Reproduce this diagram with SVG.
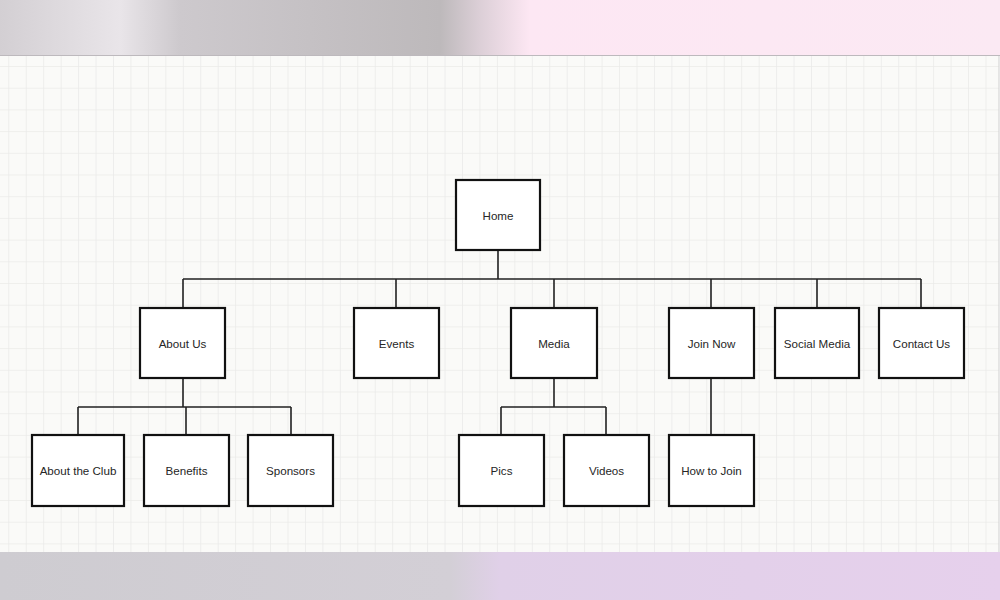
<svg xmlns="http://www.w3.org/2000/svg" width="1000" height="600" viewBox="0 0 1000 600">
<defs>
<linearGradient id="topg" x1="0" y1="0" x2="1" y2="0">
<stop offset="0" stop-color="#d3cfd3"/>
<stop offset="0.12" stop-color="#e9e5e9"/>
<stop offset="0.18" stop-color="#cdc9cd"/>
<stop offset="0.44" stop-color="#bdb9bb"/>
<stop offset="0.48" stop-color="#dccfd7"/>
<stop offset="0.53" stop-color="#fde7f3"/>
<stop offset="1" stop-color="#fbe9f3"/>
</linearGradient>
<linearGradient id="botg" x1="0" y1="0" x2="1" y2="0">
<stop offset="0" stop-color="#ceccd1"/>
<stop offset="0.45" stop-color="#d3cfd6"/>
<stop offset="0.5" stop-color="#e0d0e8"/>
<stop offset="1" stop-color="#e6d0ec"/>
</linearGradient>
<pattern id="grid" x="8.3" y="66" width="17.45" height="21.7" patternUnits="userSpaceOnUse">
<path d="M0 0V21.7M0 0H17.45" fill="none" stroke="#ebebe9" stroke-width="1.6"/>
</pattern>
<style>
.box{fill:#ffffff;stroke:#111;stroke-width:2.2}
.lbl{font-family:"Liberation Sans",Arial,sans-serif;font-size:11.6px;fill:#262626;text-anchor:middle;dominant-baseline:central}
.con{fill:none;stroke:#222;stroke-width:1.6}
</style>
</defs>
<rect x="0" y="0" width="1000" height="56" fill="url(#topg)"/>
<rect x="0" y="552" width="1000" height="48" fill="url(#botg)"/>
<rect x="0" y="56" width="999" height="496" fill="#fafaf8"/>
<rect x="0" y="56" width="999" height="496" fill="url(#grid)"/>
<line x1="0" y1="55.5" x2="1000" y2="55.5" stroke="#bdb9bd" stroke-width="1"/>
<line x1="999" y1="56" x2="999" y2="552" stroke="#d0d0d0" stroke-width="1"/>

<g id="connectors">
<path class="con" d="M498 251V279M183 279H921M183 279V308M396 279V308M554 279V308M711 279V308M817 279V308M921 279V308"/>
<path class="con" d="M183 379V407M78 407H291M78 407V435M186 407V435M291 407V435"/>
<path class="con" d="M554 379V407M501 407H606M501 407V435M606 407V435"/>
<path class="con" d="M711 379V435"/>
</g>

<g id="home"><rect class="box" x="456" y="180" width="84" height="70"/><text class="lbl" x="498" y="215">Home</text></g>
<g id="about-us"><rect class="box" x="140" y="308" width="85" height="70"/><text class="lbl" x="182.5" y="343">About Us</text></g>
<g id="events"><rect class="box" x="354" y="308" width="85" height="70"/><text class="lbl" x="396.5" y="343">Events</text></g>
<g id="media"><rect class="box" x="511" y="308" width="86" height="70"/><text class="lbl" x="554" y="343">Media</text></g>
<g id="join-now"><rect class="box" x="669" y="308" width="85" height="70"/><text class="lbl" x="711.5" y="343">Join Now</text></g>
<g id="social-media"><rect class="box" x="775" y="308" width="84" height="70"/><text class="lbl" x="817" y="343">Social Media</text></g>
<g id="contact-us"><rect class="box" x="879" y="308" width="85" height="70"/><text class="lbl" x="921.5" y="343">Contact Us</text></g>
<g id="about-the-club"><rect class="box" x="32" y="435" width="92" height="71"/><text class="lbl" x="78" y="470.5">About the Club</text></g>
<g id="benefits"><rect class="box" x="144" y="435" width="85" height="71"/><text class="lbl" x="186.5" y="470.5">Benefits</text></g>
<g id="sponsors"><rect class="box" x="248" y="435" width="85" height="71"/><text class="lbl" x="290.5" y="470.5">Sponsors</text></g>
<g id="pics"><rect class="box" x="459" y="435" width="85" height="71"/><text class="lbl" x="501.5" y="470.5">Pics</text></g>
<g id="videos"><rect class="box" x="564" y="435" width="85" height="71"/><text class="lbl" x="606.5" y="470.5">Videos</text></g>
<g id="how-to-join"><rect class="box" x="669" y="435" width="85" height="71"/><text class="lbl" x="711.5" y="470.5">How to Join</text></g>
</svg>
